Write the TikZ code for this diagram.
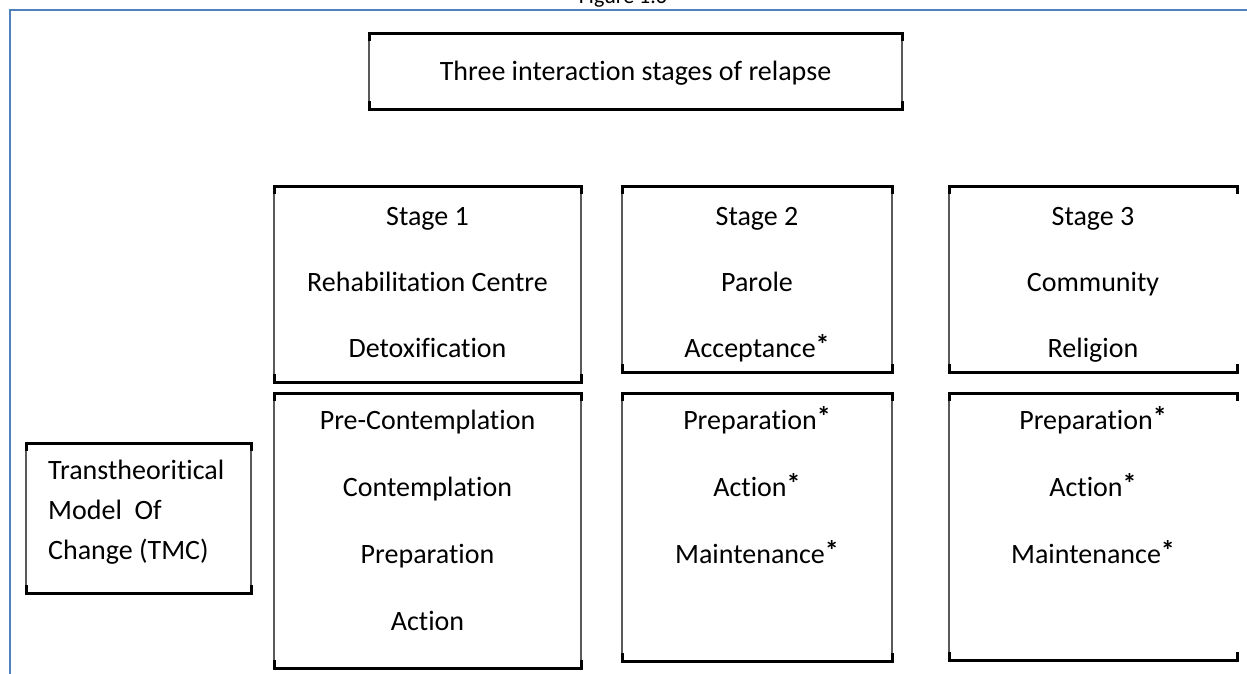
\documentclass[tikz,border=0pt]{standalone}
\usepackage{fontspec}
\setmainfont{Carlito}[Ligatures=NoCommon]
\definecolor{frameblue}{HTML}{4F81BD}
\newcommand\starmark{\raisebox{0.08em}{\textbf{*}}}
\tikzset{
  boxarea/.style={rectangle, draw=none, inner sep=0pt, outer sep=0pt},
  sideline/.style={draw=gray!70!black, line width=1.6pt},
  edgeline/.style={draw=black, line width=3pt, line join=miter, line cap=butt},
  lbl/.style={anchor=base, inner sep=0pt, font=\fontsize{28}{33}\selectfont},
}
\newcommand\boxedges[2][]{%
  \draw[sideline] (#2.north west) -- (#2.south west);
  \draw[sideline,#1] (#2.north east) -- (#2.south east);
  \draw[edgeline] ([yshift=-8pt]#2.north west) -- (#2.north west) -- (#2.north east) -- ([yshift=-8pt]#2.north east);
  \draw[edgeline] ([yshift=8pt]#2.south west) -- (#2.south west) -- (#2.south east) -- ([yshift=8pt]#2.south east);
}
\begin{document}
\begin{tikzpicture}[x=1pt,y=-1pt]
\useasboundingbox (0,0) rectangle (1247,673);
\fill[white] (0,0) rectangle (1247,673);
% caption (cut off at the top, as in the reference)
\node[anchor=base, inner sep=0pt, font=\fontsize{22}{26}\selectfont] (cap) at (623,3) {Figure 1.6};
% blue frame
\coordinate (fa) at (10,690);
\coordinate (fb) at (10,10);
\coordinate (fc) at (1260,10);
\draw[frameblue, line width=2pt] (fa) -- (fb) -- (fc);
% boxes
\node[boxarea, minimum width=533pt, minimum height=76pt] (title) at (635.5,71) {};
\node[boxarea, minimum width=307pt, minimum height=196pt] (s1top) at (427.5,284) {};
\node[boxarea, minimum width=307pt, minimum height=275pt] (s1bot) at (427.5,530.5) {};
\node[boxarea, minimum width=270pt, minimum height=186pt] (s2top) at (757,279) {};
\node[boxarea, minimum width=270pt, minimum height=268pt] (s2bot) at (757,527) {};
\node[boxarea, minimum width=288pt, minimum height=186pt] (s3top) at (1093,279) {};
\node[boxarea, minimum width=288pt, minimum height=267pt] (s3bot) at (1093,526.5) {};
\node[boxarea, minimum width=225pt, minimum height=150pt] (tmc) at (138.5,518) {};
\boxedges{title}
\boxedges{s1top}
\boxedges{s1bot}
\boxedges{s2top}
\boxedges{s2bot}
\boxedges[draw=none]{s3top}
\boxedges[draw=none]{s3bot}
\boxedges{tmc}
% texts
\node[lbl] (t0) at (635.5,80) {Three interaction stages of relapse};
\node[lbl] (a1) at (427.5,225) {Stage 1};
\node[lbl] (a2) at (427.5,291) {Rehabilitation Centre};
\node[lbl] (a3) at (427.5,357) {Detoxification};
\node[lbl] (b1) at (757,225) {Stage 2};
\node[lbl] (b2) at (757,291) {Parole};
\node[lbl] (b3) at (757,357) {Acceptance\starmark};
\node[lbl] (c1) at (1093,225) {Stage 3};
\node[lbl] (c2) at (1093,291) {Community};
\node[lbl] (c3) at (1093,357) {Religion};
\node[lbl] (d1) at (427.5,429) {Pre-Contemplation};
\node[lbl] (d2) at (427.5,496) {Contemplation};
\node[lbl] (d3) at (427.5,563) {Preparation};
\node[lbl] (d4) at (427.5,630) {Action};
\node[lbl] (e1) at (757,429) {Preparation\starmark};
\node[lbl] (e2) at (757,496) {Action\starmark};
\node[lbl] (e3) at (757,563) {Maintenance\starmark};
\node[lbl] (f1) at (1093,429) {Preparation\starmark};
\node[lbl] (f2) at (1093,496) {Action\starmark};
\node[lbl] (f3) at (1093,563) {Maintenance\starmark};
\node[lbl, anchor=base west] (g1) at (48,479) {Transtheoritical};
\node[lbl, anchor=base west] (g2) at (48,519) {Model\ \ Of};
\node[lbl, anchor=base west] (g3) at (48,559) {Change (TMC)};
\end{tikzpicture}
\end{document}
